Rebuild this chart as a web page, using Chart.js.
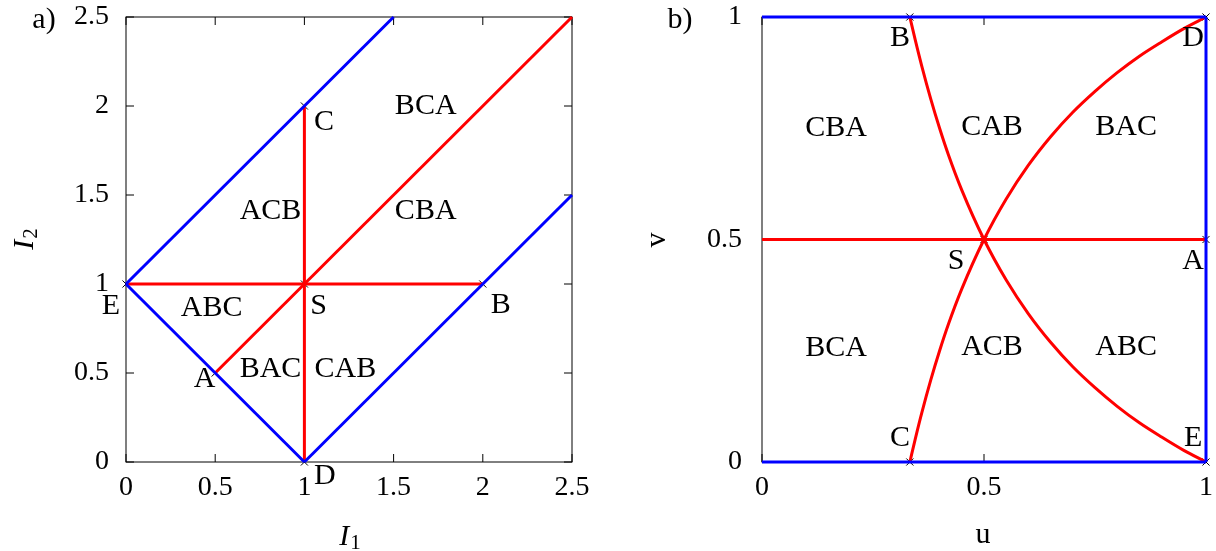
<!DOCTYPE html>
<html>
<head>
<meta charset="utf-8">
<script src="https://cdn.jsdelivr.net/npm/chart.js@4"></script>
<style>
  body { margin: 0; background: #fff; }
  #wrap { position: relative; width: 1216px; height: 551px; }
  canvas { position: absolute; top: 0; }
</style>
</head>
<body>
<div id="wrap">
  <canvas id="chartA" width="608" height="551" style="left:0"></canvas>
  <canvas id="chartB" width="608" height="551" style="left:608px"></canvas>
</div>
<script>
// ---- panel a) data (I1, I2) ----
const aTicks = [0, 0.5, 1, 1.5, 2, 2.5];
const aBlueSegments = [
  [[0, 1], [1.5, 2.5]],
  [[0, 1], [1, 0]],
  [[1, 0], [2.5, 1.5]]
];
const aRedSegments = [
  [[1, 0], [1, 2]],
  [[0, 1], [2, 1]],
  [[0.5, 0.5], [2.5, 2.5]]
];
const aMarkers = [[0, 1], [1, 2], [1, 1], [2, 1], [0.5, 0.5], [1, 0]];
const aRegionLabels = [
  ["BCA", 1.68, 2.0], ["ACB", 0.81, 1.41], ["CBA", 1.68, 1.41],
  ["ABC", 0.48, 0.865], ["BAC", 0.81, 0.52], ["CAB", 1.23, 0.52]
];
const aPointLabels = [
  ["E", -0.085, 0.875], ["C", 1.11, 1.91], ["S", 1.08, 0.875],
  ["B", 2.1, 0.88], ["A", 0.44, 0.465], ["D", 1.115, -0.08]
];

// ---- panel b) data (u, v) ----
const bTicks = [0, 0.5, 1];
const bBlueSegments = [
  [[0, 1], [1, 1]],
  [[0, 0], [1, 0]],
  [[1, 0], [1, 1]]
];
const bRedLine = [[0, 0.5], [1, 0.5]];
const bCurveU = [0.333, 0.345, 0.36, 0.38, 0.4, 0.42, 0.45, 0.5, 0.55, 0.6, 0.65, 0.7, 0.75, 0.8, 0.85, 0.9, 0.95, 1];
const bCurveCSD = [0, 0.051, 0.111, 0.184, 0.25, 0.31, 0.389, 0.5, 0.591, 0.667, 0.731, 0.786, 0.833, 0.875, 0.912, 0.944, 0.974, 1];
const bCurveBSE = [1, 0.949, 0.889, 0.816, 0.75, 0.69, 0.611, 0.5, 0.409, 0.333, 0.269, 0.214, 0.167, 0.125, 0.088, 0.056, 0.026, 0];
const bMarkers = [[0.333, 1], [1, 1], [0.5, 0.5], [1, 0.5], [0.333, 0], [1, 0]];
const bRegionLabels = [
  ["CBA", 0.167, 0.75], ["CAB", 0.518, 0.753], ["BAC", 0.82, 0.753],
  ["BCA", 0.167, 0.256], ["ACB", 0.518, 0.258], ["ABC", 0.82, 0.258]
];
const bPointLabels = [
  ["B", 0.311, 0.953], ["D", 0.971, 0.953], ["S", 0.437, 0.452],
  ["A", 0.971, 0.452], ["C", 0.311, 0.054], ["E", 0.971, 0.054]
];

const SERIF = '"Liberation Serif", "DejaVu Serif", serif';
const BLUE = "#0000ff";
const RED = "#ff0000";

function toPts(seg) {
  return seg.map(p => ({ x: p[0], y: p[1] }));
}

function lineSet(points, color) {
  return {
    data: points,
    showLine: true,
    borderColor: color,
    borderWidth: 3,
    pointRadius: 0,
    fill: false,
    clip: false
  };
}

function markerSet(points) {
  return {
    data: toPts(points),
    showLine: false,
    pointStyle: "crossRot",
    pointRadius: 5,
    borderColor: "#000",
    borderWidth: 1,
    clip: false
  };
}

function drawSubLabel(ctx, x, y, rotate, main, sub) {
  ctx.save();
  ctx.translate(x, y);
  if (rotate) ctx.rotate(-Math.PI / 2);
  ctx.font = `italic 30px ${SERIF}`;
  const w1 = ctx.measureText(main).width;
  ctx.font = `21px ${SERIF}`;
  const w2 = ctx.measureText(sub).width;
  const start = -(w1 + w2 + 1) / 2;
  ctx.fillStyle = "#000";
  ctx.textAlign = "left";
  ctx.textBaseline = "alphabetic";
  ctx.font = `italic 30px ${SERIF}`;
  ctx.fillText(main, start, 0);
  ctx.font = `21px ${SERIF}`;
  ctx.fillText(sub, start + w1 + 1, 4);
  ctx.restore();
}

function makePanel(id, opts) {
  const frame = {
    id: "frame" + id,
    beforeDatasetsDraw(chart) {
      const { ctx, chartArea: a, scales } = chart;
      ctx.save();
      ctx.strokeStyle = "#000";
      ctx.lineWidth = 1;
      ctx.strokeRect(a.left, a.top, a.right - a.left, a.bottom - a.top);
      ctx.beginPath();
      opts.ticks.forEach(t => {
        const px = scales.x.getPixelForValue(t);
        ctx.moveTo(px, a.bottom); ctx.lineTo(px, a.bottom - 8);
        ctx.moveTo(px, a.top); ctx.lineTo(px, a.top + 8);
        const py = scales.y.getPixelForValue(t);
        ctx.moveTo(a.left, py); ctx.lineTo(a.left + 8, py);
        ctx.moveTo(a.right, py); ctx.lineTo(a.right - 8, py);
      });
      ctx.stroke();
      ctx.restore();
    },
    afterDraw(chart) {
      const { ctx, scales } = chart;
      ctx.save();
      ctx.fillStyle = "#000";
      ctx.textAlign = "center";
      ctx.textBaseline = "middle";
      ctx.font = `30px ${SERIF}`;
      opts.regionLabels.concat(opts.pointLabels).forEach(([t, x, y]) => {
        ctx.fillText(t, scales.x.getPixelForValue(x), scales.y.getPixelForValue(y));
      });
      ctx.textBaseline = "alphabetic";
      ctx.fillText(opts.panel, opts.panelPos[0], opts.panelPos[1]);
      ctx.restore();
      opts.axisTitles(ctx);
    }
  };

  const tickFont = { family: SERIF, size: 28 };
  return new Chart(document.getElementById(id), {
    type: "scatter",
    data: { datasets: opts.datasets },
    options: {
      responsive: false,
      animation: false,
      events: [],
      layout: { padding: opts.padding },
      plugins: { legend: { display: false }, tooltip: { enabled: false } },
      scales: {
        x: {
          type: "linear",
          min: opts.ticks[0],
          max: opts.ticks[opts.ticks.length - 1],
          afterBuildTicks: s => { s.ticks = opts.ticks.map(v => ({ value: v })); },
          ticks: {
            font: tickFont, color: "#000", padding: 9, maxRotation: 0, autoSkip: false,
            callback: v => String(+Number(v).toFixed(2))
          },
          grid: { display: false, drawTicks: false },
          border: { display: false },
          afterFit: s => { s.height = 89; s.paddingLeft = 0; s.paddingRight = 0; }
        },
        y: {
          type: "linear",
          min: opts.ticks[0],
          max: opts.ticks[opts.ticks.length - 1],
          afterBuildTicks: s => { s.ticks = opts.ticks.map(v => ({ value: v })); },
          ticks: {
            font: tickFont, color: "#000", padding: opts.yPad, autoSkip: false,
            callback: v => String(+Number(v).toFixed(2))
          },
          grid: { display: false, drawTicks: false },
          border: { display: false },
          afterFit: s => { s.width = 80; s.paddingTop = 0; s.paddingBottom = 0; }
        }
      }
    },
    plugins: [frame]
  });
}

// panel a)
makePanel("chartA", {
  ticks: aTicks,
  padding: { left: 46, right: 36, top: 17, bottom: 0 },
  yPad: 17,
  regionLabels: aRegionLabels,
  pointLabels: aPointLabels,
  panel: "a)",
  panelPos: [44, 28],
  datasets: [
    ...aBlueSegments.map(s => lineSet(toPts(s), BLUE)),
    ...aRedSegments.map(s => lineSet(toPts(s), RED)),
    markerSet(aMarkers)
  ],
  axisTitles: ctx => {
    drawSubLabel(ctx, 350, 545, false, "I", "1");
    drawSubLabel(ctx, 33, 239, true, "I", "2");
  }
});

// panel b)
makePanel("chartB", {
  ticks: bTicks,
  padding: { left: 74, right: 10, top: 17, bottom: 0 },
  yPad: 20,
  regionLabels: bRegionLabels,
  pointLabels: bPointLabels,
  panel: "b)",
  panelPos: [72, 28],
  datasets: [
    ...bBlueSegments.map(s => lineSet(toPts(s), BLUE)),
    lineSet(toPts(bRedLine), RED),
    Object.assign(lineSet(bCurveU.map((u, i) => ({ x: u, y: bCurveCSD[i] })), RED), { cubicInterpolationMode: "monotone" }),
    Object.assign(lineSet(bCurveU.map((u, i) => ({ x: u, y: bCurveBSE[i] })), RED), { cubicInterpolationMode: "monotone" }),
    markerSet(bMarkers)
  ],
  axisTitles: ctx => {
    ctx.save();
    ctx.fillStyle = "#000";
    ctx.font = `30px ${SERIF}`;
    ctx.textAlign = "center";
    ctx.textBaseline = "alphabetic";
    ctx.fillText("u", 375, 543);
    ctx.translate(57, 240);
    ctx.rotate(-Math.PI / 2);
    ctx.fillText("v", 0, 0);
    ctx.restore();
  }
});
</script>
</body>
</html>
